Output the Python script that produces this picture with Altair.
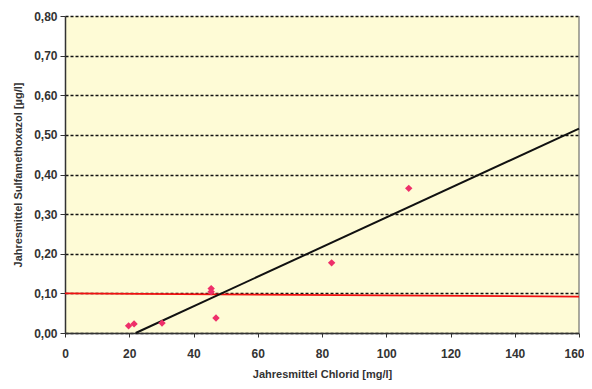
import altair as alt
import pandas as pd

# measured points
chlorid = [19.8, 21.5, 30.2, 45.5, 45.5, 47.0, 83.0, 107.0]
sulfa = [0.018, 0.023, 0.025, 0.112, 0.104, 0.038, 0.177, 0.365]

# regression line (end points)
reg_x = [22, 160]
reg_y = [0.0, 0.516]

# red limit line
lim_x = [0, 160]
lim_y = [0.100, 0.092]

x_ticks = [0, 20, 40, 60, 80, 100, 120, 140, 160]
y_ticks = [0.0, 0.1, 0.2, 0.3, 0.4, 0.5, 0.6, 0.7, 0.8]

pts = pd.DataFrame({"x": chlorid, "y": sulfa})
reg = pd.DataFrame({"x": reg_x, "y": reg_y})
lim = pd.DataFrame({"x": lim_x, "y": lim_y})
edge = pd.DataFrame({"x": [160], "y": [0.0], "y2": [0.8]})

xs = alt.Scale(domain=[0, 160], nice=False)
ys = alt.Scale(domain=[0, 0.8], nice=False)

xaxis = alt.Axis(
    values=x_ticks, grid=False, title="Jahresmittel Chlorid [mg/l]",
    labelOverlap=False, labelFlush=False,
    labelAlign={"condition": {"test": "datum.value == 160", "value": "right"}, "value": "center"},
    labelOffset={"condition": {"test": "datum.value == 160", "value": 5}, "value": 0},
    labelFont="Liberation Sans", labelFontSize=12, labelFontWeight="bold", labelColor="#333",
    titleFont="Liberation Sans", titleFontSize=11, titleFontWeight="bold", titleColor="#333",
    titlePadding=9, domainColor="#333", domainWidth=1.5, tickColor="#333", tickSize=4,
    labelPadding=11,
)
yaxis = alt.Axis(
    values=y_ticks, grid=True, gridColor="#111", gridDash=[3, 2], gridWidth=1.5,
    title="Jahresmittel Sulfamethoxazol [µg/l]",
    labelOverlap=False, labelFlush=False,
    labelExpr="replace(format(datum.value, '.2f'), '.', ',')",
    labelFont="Liberation Sans", labelFontSize=12, labelFontWeight="bold", labelColor="#333",
    titleFont="Liberation Sans", titleFontSize=11, titleFontWeight="bold", titleColor="#333",
    titlePadding=10, domainColor="#333", domainWidth=1.5, tickColor="#333", tickSize=5,
    labelPadding=3,
)

X = alt.X("x:Q", scale=xs, axis=xaxis)
Y = alt.Y("y:Q", scale=ys, axis=yaxis)

right_edge = alt.Chart(edge).mark_rule(color="#555", strokeWidth=1).encode(
    x=X, y=Y, y2="y2:Q"
)
lim_line = alt.Chart(lim).mark_line(color="#F01010", strokeWidth=1.8).encode(x=X, y=Y)
reg_line = alt.Chart(reg).mark_line(color="#111", strokeWidth=2).encode(x=X, y=Y)
base_pts = alt.Chart(pts).mark_point(
    shape="diamond", filled=True, size=55, color="#EE2F6A", opacity=1
).encode(x=X, y=Y)

chart = alt.layer(right_edge, lim_line, reg_line, base_pts).properties(
    width=514, height=317,
    autosize=alt.AutoSizeParams(type="none"),
    padding={"left": 57, "top": 8, "right": 5, "bottom": 50},
    background="white",
).configure_view(fill="#FEFBD6", stroke=None)

chart.save("out.html", embed_options={"renderer": "svg", "actions": False})
